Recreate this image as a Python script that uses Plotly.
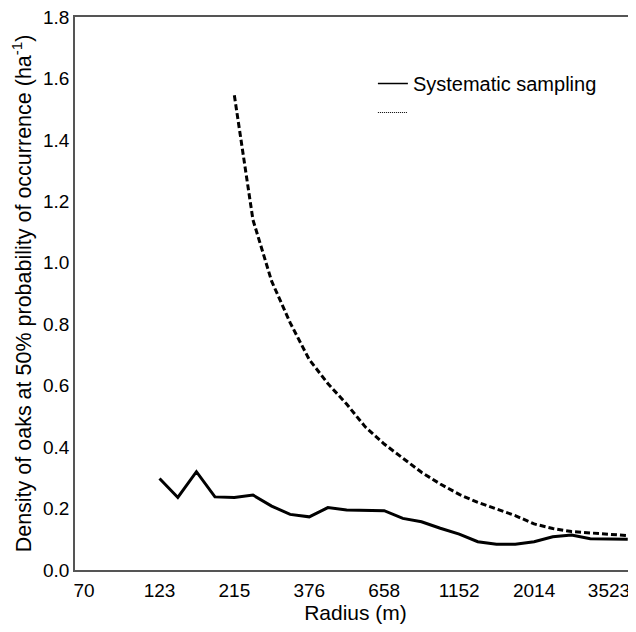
import plotly.graph_objects as go

# Radius (m) values of the sampling steps (log-spaced)
radius = [123, 141, 162, 186, 215, 247, 284, 326, 376, 432, 497, 571, 658, 756,
          869, 1000, 1152, 1323, 1521, 1750, 2014, 2315, 2663, 3063, 3523, 4052]

# Systematic sampling (solid)
systematic = [0.298, 0.236, 0.320, 0.238, 0.236, 0.244, 0.208, 0.181, 0.173, 0.203,
              0.195, 0.193, 0.193, 0.168, 0.157, 0.136, 0.117, 0.092, 0.084, 0.084,
              0.092, 0.108, 0.114, 0.102, 0.100, 0.100]

# Second (dashed) series, starts at 215 m
radius_dashed = radius[4:]
dashed = [1.545, 1.14, 0.94, 0.805, 0.685, 0.607, 0.54, 0.466, 0.41, 0.365, 0.318,
          0.28, 0.246, 0.22, 0.199, 0.177, 0.15, 0.135, 0.125, 0.12, 0.117, 0.112]

tick_vals = [70, 123, 215, 376, 658, 1152, 2014, 3523]
tick_text = ["70", "123", "215", "376", "658", "1152", "2014", "3523"]
y_ticks = [0.0, 0.2, 0.4, 0.6, 0.8, 1.0, 1.2, 1.4, 1.6, 1.8]

FONT = "Liberation Sans, Arial, sans-serif"

fig = go.Figure()
fig.add_trace(go.Scatter(x=radius, y=systematic, mode="lines",
                         line=dict(color="black", width=3),
                         showlegend=False))
fig.add_trace(go.Scatter(x=radius_dashed, y=dashed, mode="lines",
                         line=dict(color="black", width=3, dash="6px,3px"),
                         showlegend=False))
# legend-only entries (thin samples as in the original)
fig.add_trace(go.Scatter(x=[None], y=[None], mode="lines",
                         line=dict(color="black", width=1.5),
                         name="Systematic sampling"))
fig.add_trace(go.Scatter(x=[None], y=[None], mode="lines",
                         line=dict(color="black", width=1, dash="1px,1px"),
                         name=" "))

fig.update_layout(
    width=628, height=624,
    margin=dict(l=67, r=0, t=9, b=62),
    plot_bgcolor="white", paper_bgcolor="white",
    font=dict(family=FONT, size=19, color="black"),
    showlegend=True,
    legend=dict(x=0.531, y=0.915, xanchor="left", yanchor="top",
                bgcolor="rgba(0,0,0,0)", font=dict(size=20),
                tracegroupgap=0, itemwidth=30),
    xaxis=dict(type="log", range=[1.8159, 3.6344], automargin=False,
               tickvals=tick_vals, ticktext=tick_text, ticklabeloverflow="allow",
               showline=True, linecolor="#555", linewidth=1.5, mirror=True,
               showgrid=False, zeroline=False,
               ticks="outside", ticklen=2, tickcolor="rgba(0,0,0,0)",
               tickfont=dict(size=19),
               title=dict(text="Radius (m)", font=dict(size=21), standoff=6)),
    yaxis=dict(range=[0, 1.8], tickvals=y_ticks, tickformat=".1f", automargin=False,
               ticklabeloverflow="allow",
               showline=True, linecolor="#555", linewidth=1.5,
               showgrid=False, zeroline=False, ticks="",
               tickfont=dict(size=19),
               title=dict(text="Density of oaks at 50% probability of occurrence (ha<sup>-1</sup>)",
                          font=dict(size=21.5), standoff=6)),
)

fig.write_html("out.html")
